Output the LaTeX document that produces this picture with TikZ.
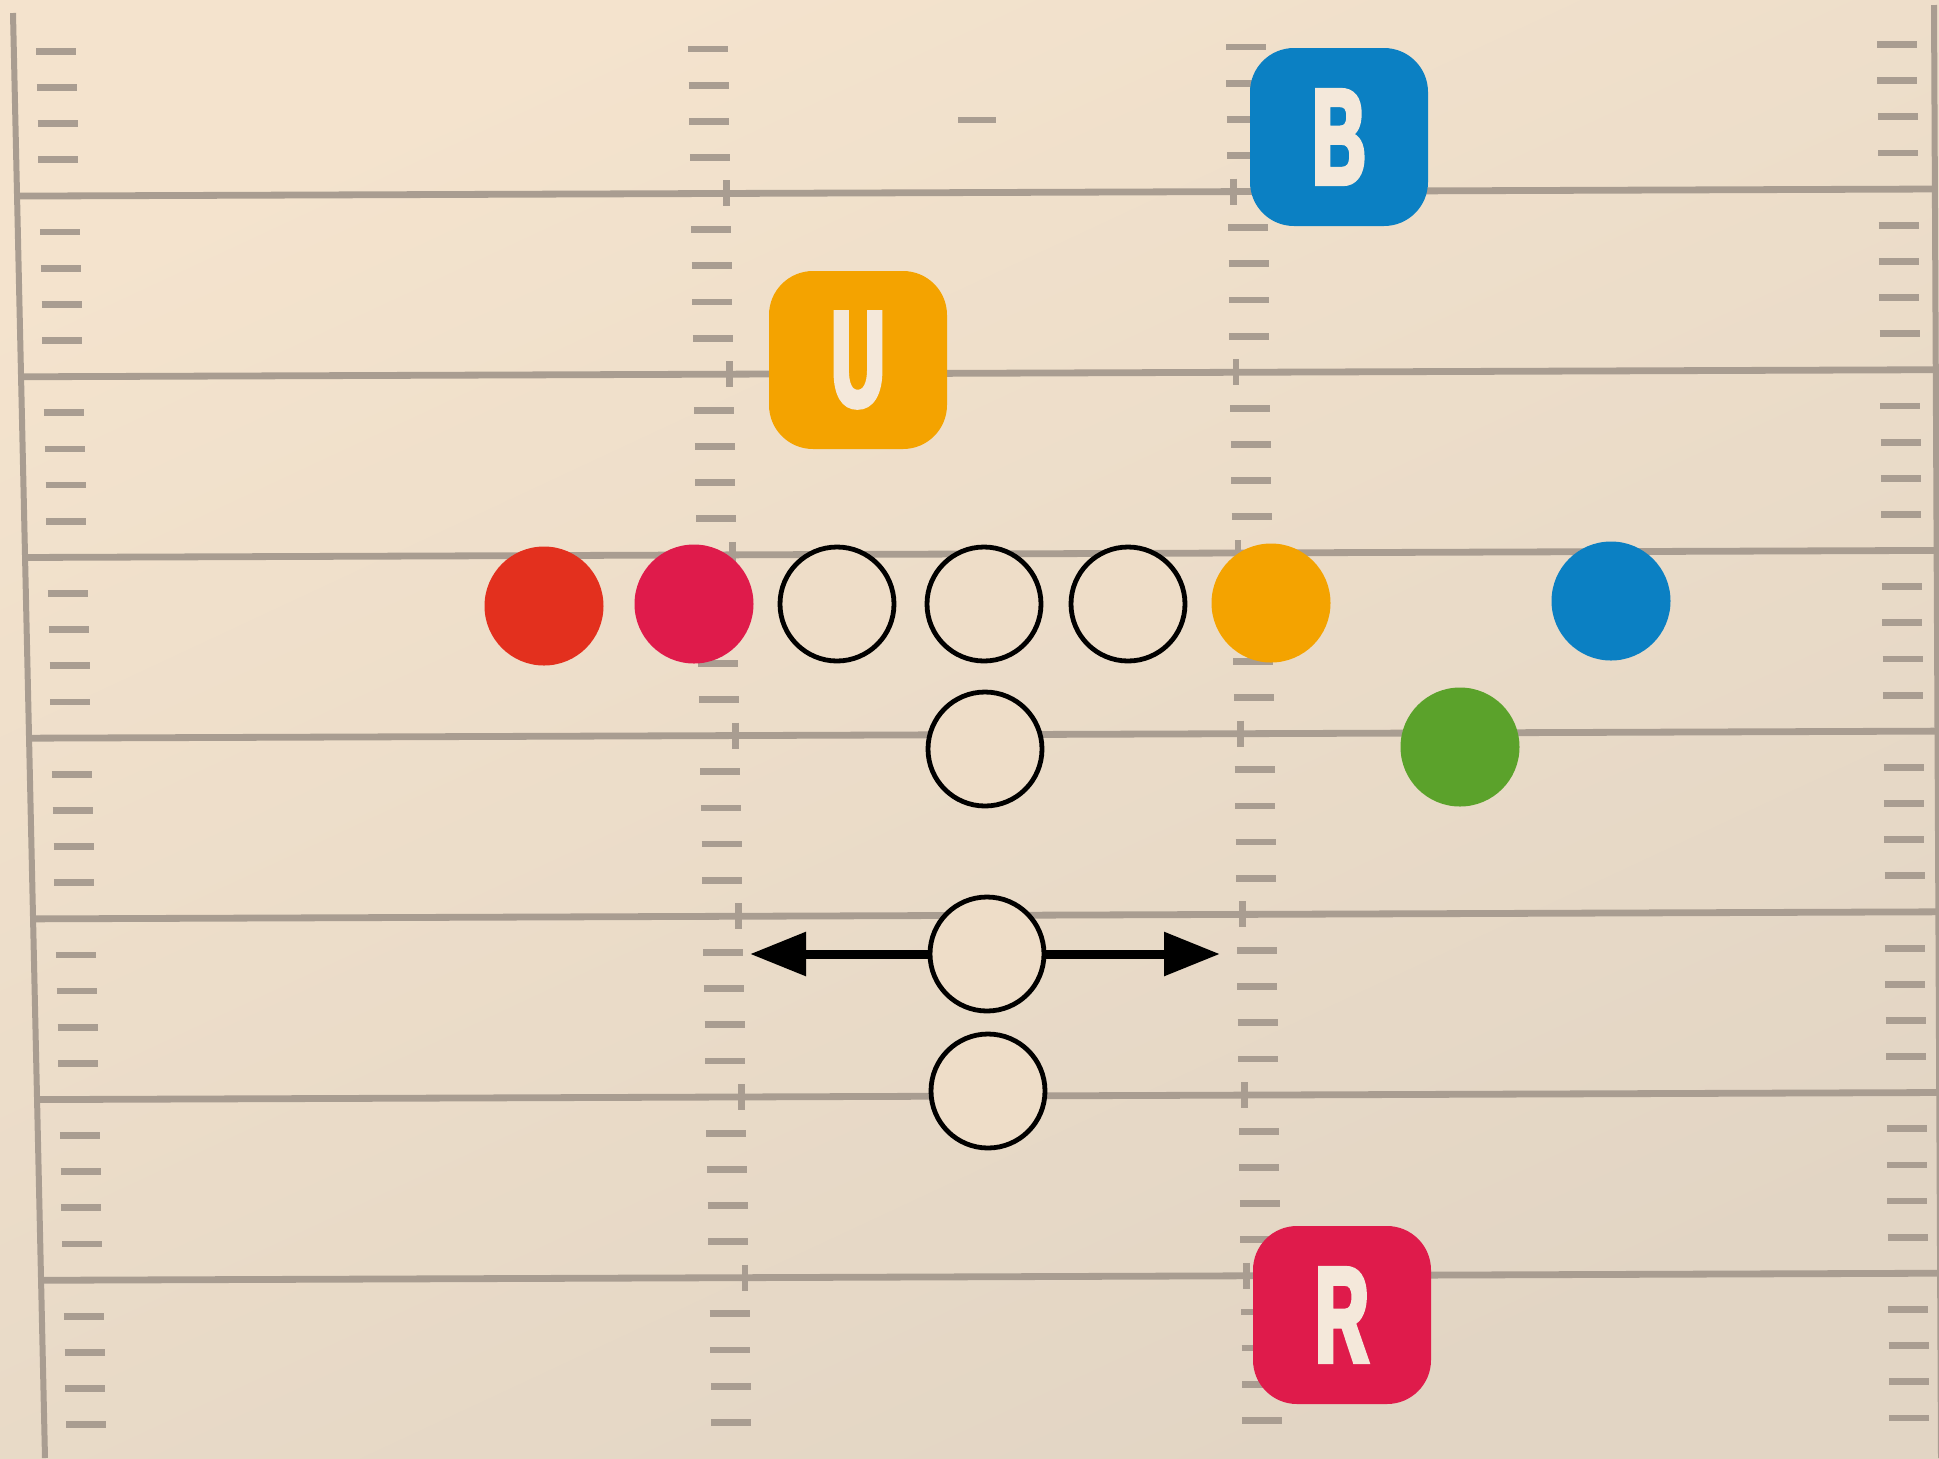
\documentclass[tikz,border=0pt]{standalone}
\usepackage{fontspec}
\usetikzlibrary{arrows.meta}
\newfontfamily\labfont{Liberation Sans}[BoldFeatures={FakeStretch=0.54,FakeBold=3.5}]
\definecolor{bgtop}{HTML}{F4E3CD}
\definecolor{bgbot}{HTML}{E2D5C4}
\definecolor{bgmid}{HTML}{EEDDC8}
\definecolor{linegray}{HTML}{A99D91}
\definecolor{lettercol}{HTML}{F4E8DA}
\definecolor{plblue}{HTML}{0B80C3}
\definecolor{plorange}{HTML}{F4A300}
\definecolor{plred}{HTML}{E3301E}
\definecolor{plpink}{HTML}{DF1B4B}
\definecolor{plgreen}{HTML}{5BA22B}
\begin{document}
\begin{tikzpicture}[x=0.5pt,y=-0.5pt,
  declare function={
    yy(\t,\x)=196.15+(\t-1)*180.7-0.0037*\x;
    xle(\y)=36+0.022*(\y-50);
    xli(\y)=688+0.017*(\y-48);
    xri(\y)=1226+0.012*(\y-48);
    xre(\y)=1877+0.009*(\y-44);
    xsl(\y)=13+0.0221*(\y-13);
    xsr(\y)=1934+0.005*\y;
  },
  fieldline/.style={draw=linegray, line width=3.4pt},
  hashmark/.style={draw=linegray, line width=3.4pt},
  sideline/.style={draw=linegray, line width=3pt},
  player/.style={circle, minimum size=59.5pt, inner sep=0pt},
  openplayer/.style={circle, draw=black, line width=2.4pt, fill=bgmid, minimum size=57pt, inner sep=0pt},
  labelbox/.style={rounded corners=22pt, minimum width=89pt, minimum height=89pt, inner sep=0pt, text=lettercol, font=\labfont\bfseries\fontsize{68pt}{68pt}\selectfont},
  movearrow/.style={draw=black, line width=4.5pt, -{Triangle[length=28pt,width=21pt]}}
]
\useasboundingbox (0,0) rectangle (1939,1458);
\shade[top color=bgtop, bottom color=bgbot, shading angle=25] (0,0) rectangle (1939,1458);

% sidelines
\draw[sideline] (13,13) -- (45,1458);
\draw[sideline] (1934,5) -- (1941,1458);

% yard lines with inner ticks
\foreach \t in {1,...,7}{
  \pgfmathsetmacro{\yA}{yy(\t,20)}
  \pgfmathsetmacro{\yB}{yy(\t,1934)}
  \draw[fieldline] ({xsl(\yA)},\yA) -- ({xsr(\yB)},\yB);
  \pgfmathsetmacro{\yL}{yy(\t,725)}
  \pgfmathsetmacro{\xL}{xli(\yL)+36}
  \draw[fieldline] (\xL,\yL-13) -- (\xL,\yL+13);
  \pgfmathsetmacro{\yR}{yy(\t,1232)}
  \pgfmathsetmacro{\xR}{xri(\yR)+6}
  \draw[fieldline] (\xR,\yR-13) -- (\xR,\yR+13);
}

% hash marks
\foreach \r in {0,...,7}{
  \foreach \j in {1,...,4}{
    \pgfmathsetmacro{\tt}{\r+\j/5}
    \pgfmathsetmacro{\ya}{yy(\tt,56)}
    \pgfmathsetmacro{\xa}{xle(\ya)}
    \draw[hashmark] (\xa,\ya) -- (\xa+40,\ya);
    \pgfmathsetmacro{\yb}{yy(\tt,708)}
    \pgfmathsetmacro{\xb}{xli(\yb)}
    \draw[hashmark] (\xb,\yb) -- (\xb+40,\yb);
    \pgfmathsetmacro{\yc}{yy(\tt,1246)}
    \pgfmathsetmacro{\xc}{xri(\yc)}
    \draw[hashmark] (\xc,\yc) -- (\xc+40,\yc);
    \pgfmathsetmacro{\yd}{yy(\tt,1897)}
    \pgfmathsetmacro{\xd}{xre(\yd)}
    \draw[hashmark] (\xd,\yd) -- (\xd+40,\yd);
  }
}
% single midfield dash
\draw[hashmark] (958,120) -- (996,120);

% players
\node[player, fill=plred] (red) at (544,606) {};
\node[player, fill=plpink] (pink) at (694,604) {};
\node[openplayer] (o1) at (837,604) {};
\node[openplayer] (o2) at (984,604) {};
\node[openplayer] (o3) at (1128,604) {};
\node[player, fill=plorange] (orange) at (1271,603) {};
\node[player, fill=plblue] (blue) at (1611,601) {};
\node[player, fill=plgreen] (green) at (1460,747) {};
\node[openplayer] (oc) at (985,749) {};
\node[openplayer] (oa) at (987,954) {};
\node[openplayer] (ob) at (988,1091) {};

% motion arrows
\coordinate (tipL) at (750,954);
\coordinate (tipR) at (1220,954);
\draw[movearrow] (oa) -- (tipL);
\draw[movearrow] (oa) -- (tipR);

% labels
\node[labelbox, fill=plblue] (lblB) at (1339,137) {B};
\node[labelbox, fill=plorange] (lblU) at (858,360) {U};
\node[labelbox, fill=plpink] (lblR) at (1342,1315) {R};
\end{tikzpicture}
\end{document}
